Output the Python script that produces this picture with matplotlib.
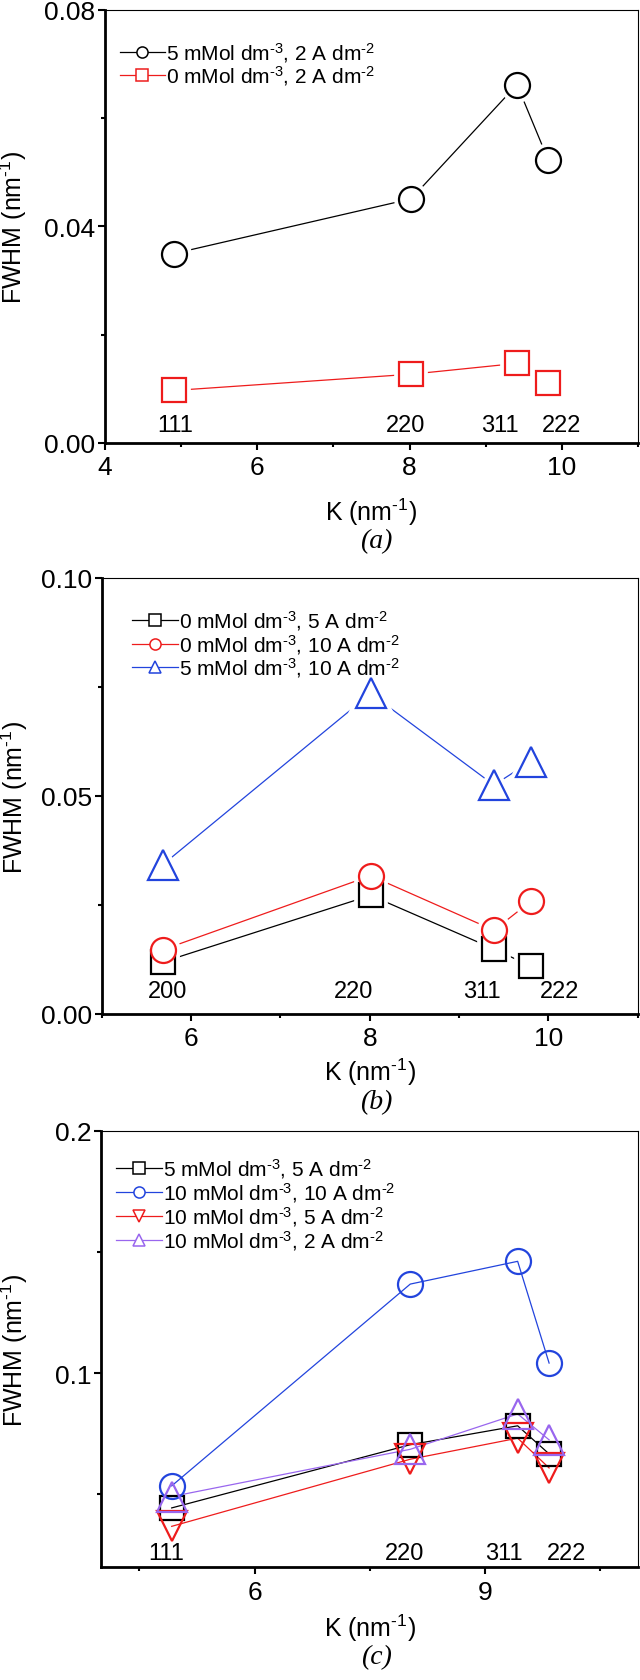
import matplotlib
matplotlib.use("Agg")
import matplotlib.pyplot as plt
from matplotlib.lines import Line2D

plt.rcParams['font.family'] = ['Liberation Sans', 'DejaVu Sans']
plt.rcParams['mathtext.fontset'] = 'custom'
plt.rcParams['mathtext.rm'] = 'Liberation Sans'
plt.rcParams['mathtext.default'] = 'regular'

# (a) K positions and FWHM values
k_a = [4.91, 8.02, 9.41, 9.82]
fwhm_a_5mM_2A = [0.0350, 0.0451, 0.0662, 0.0523]
fwhm_a_0mM_2A = [0.0097, 0.0127, 0.0147, 0.0110]
hkl_a = ['111', '220', '311', '222']
hkl_a_x = [4.92, 7.95, 9.18, 9.99]

# (b)
k_b = [5.68, 8.01, 9.39, 9.80]
fwhm_b_0mM_5A = [0.0119, 0.0272, 0.0149, 0.0110]
fwhm_b_0mM_10A = [0.0147, 0.0317, 0.0192, 0.0258]
fwhm_b_5mM_10A = [0.0342, 0.0735, 0.0525, 0.0579]
hkl_b = ['200', '220', '311', '222']
hkl_b_x = [5.74, 7.82, 9.25, 10.13]

# (c)
k_c = [4.92, 8.03, 9.43, 9.84]
fwhm_c_5mM_5A = [0.0444, 0.0705, 0.0783, 0.0667]
fwhm_c_10mM_10A = [0.0535, 0.1368, 0.1462, 0.1042]
fwhm_c_10mM_5A = [0.0368, 0.0645, 0.0732, 0.0609]
fwhm_c_10mM_2A = [0.0491, 0.0686, 0.0832, 0.0725]
hkl_c = ['111', '220', '311', '222']
hkl_c_x = [4.85, 7.96, 9.25, 10.07]

RED = '#ee1c1c'
BLUE = '#2244dd'
PURPLE = '#9966ee'

FS = 19    # numeros dos eixos
FL = 18    # titulos dos eixos
H = '\u2010'  # hifen curto nos expoentes


def lab(c, j):
    return '%s mMol dm$^{%s3}$, %s A dm$^{%s2}$' % (c, H, j, H)


def serie(ax, x, y, cor, mk, ms, fill='white', halo=True):
    ax.plot(x, y, '-', color=cor, lw=0.9, zorder=2)
    if halo:  # pequeno espaco branco entre linha e simbolo
        ax.plot(x, y, ls='none', marker=mk, ms=ms, mfc='white', mec='white', mew=7, zorder=3)
    ax.plot(x, y, ls='none', marker=mk, ms=ms, mfc=fill, mec=cor, mew=1.6, zorder=4)


def proxy(cor, mk, fill='white'):
    return Line2D([], [], color=cor, lw=0.9, marker=mk, ms=8, mfc=fill, mec=cor, mew=1.1)


def eixos(ax, xlim, ylim, xmaj, xmin, ymaj, ymin, yfmt, ylx, xly):
    ax.set_xlim(*xlim)
    ax.set_ylim(*ylim)
    ax.set_xticks(xmaj)
    ax.set_xticks(xmin, minor=True)
    ax.set_yticks(ymaj)
    ax.set_yticks(ymin, minor=True)
    ax.set_yticklabels([yfmt % v for v in ymaj])
    for s in ['left', 'bottom']:
        ax.spines[s].set_linewidth(2.0)
    for s in ['top', 'right']:
        ax.spines[s].set_linewidth(0.8)
    ax.tick_params(which='both', direction='out', top=False, right=False, width=1.5, labelsize=FS)
    ax.tick_params(which='major', length=5)
    ax.tick_params(which='minor', length=3)
    ax.tick_params(axis='x', pad=4)
    ax.tick_params(axis='y', pad=2)
    ax.set_ylabel('FWHM (nm$^{' + H + '1}$)', fontsize=FL, va='center')
    ax.yaxis.set_label_coords(ylx, 0.5)
    ax.set_xlabel('K (nm$^{' + H + '1}$)', fontsize=FL, va='center')
    ax.xaxis.set_label_coords(0.5, xly)


def legenda(ax, hs, labels, anchor):
    ax.legend(hs, labels, loc='upper left', bbox_to_anchor=anchor, frameon=False, fontsize=15,
              handlelength=2.2, handletextpad=0.05, labelspacing=0.0, borderaxespad=0.3)


def painel(txt, y):
    fig.text(376 / 640, 1 - y / 1681, txt, ha='center', va='center', fontsize=20,
             family='Liberation Serif', style='italic')


fig = plt.figure(figsize=(6.4, 16.81), dpi=100)

# ---------- (a)
ax = fig.add_axes([0.164, 0.7359, 0.833, 0.2576])
serie(ax, k_a, fwhm_a_5mM_2A, 'black', 'o', 18)
serie(ax, k_a, fwhm_a_0mM_2A, RED, 's', 17)
eixos(ax, (4, 11), (0, 0.08), [4, 6, 8, 10], [5, 7, 9, 11], [0, 0.04, 0.08], [0.02, 0.06], '%.2f',
      -0.171, -0.157)
for t, xx in zip(hkl_a, hkl_a_x):
    ax.text(xx, 0.0033, t, ha='center', va='center', fontsize=17)
legenda(ax, [proxy('black', 'o'), proxy(RED, 's')], [lab(5, 2), lab(0, 2)], (0.0, 0.965))
painel('(a)', 542)

# ---------- (b)
ax = fig.add_axes([0.159, 0.3962, 0.8375, 0.2594])
serie(ax, k_b, fwhm_b_0mM_5A, 'black', 's', 17)
serie(ax, k_b, fwhm_b_0mM_10A, RED, 'o', 18)
serie(ax, k_b, fwhm_b_5mM_10A, BLUE, '^', 21)
eixos(ax, (5, 11), (0, 0.10), [6, 8, 10], [5, 7, 9, 11], [0, 0.05, 0.10], [0.025, 0.075], '%.2f',
      -0.164, -0.131)
for t, xx in zip(hkl_b, hkl_b_x):
    ax.text(xx, 0.0053, t, ha='center', va='center', fontsize=17)
legenda(ax, [proxy('black', 's'), proxy(RED, 'o'), proxy(BLUE, '^')],
        [lab(0, 5), lab(0, 10), lab(5, 10)], (0.03, 0.965))
painel('(b)', 1103)

# ---------- (c)
ax = fig.add_axes([0.158, 0.0672, 0.839, 0.2594])
serie(ax, k_c, fwhm_c_5mM_5A, 'black', 's', 17, fill='none', halo=False)
serie(ax, k_c, fwhm_c_10mM_10A, BLUE, 'o', 18, fill='none', halo=False)
serie(ax, k_c, fwhm_c_10mM_5A, RED, 'v', 21, fill='none', halo=False)
serie(ax, k_c, fwhm_c_10mM_2A, PURPLE, '^', 21, fill='none', halo=False)
eixos(ax, (4, 11), (0.02, 0.2), [6, 9], [4.5, 7.5, 10.5], [0.1, 0.2], [0.05, 0.15], '%.1f',
      -0.162, -0.138)
for t, xx in zip(hkl_c, hkl_c_x):
    ax.text(xx, 0.0258, t, ha='center', va='center', fontsize=17)
legenda(ax, [proxy('black', 's'), proxy(BLUE, 'o'), proxy(RED, 'v'), proxy(PURPLE, '^')],
        [lab(5, 5), lab(10, 10), lab(10, 5), lab(10, 2)], (0.0, 0.975))
painel('(c)', 1658)

fig.savefig('out.png', dpi=100)
